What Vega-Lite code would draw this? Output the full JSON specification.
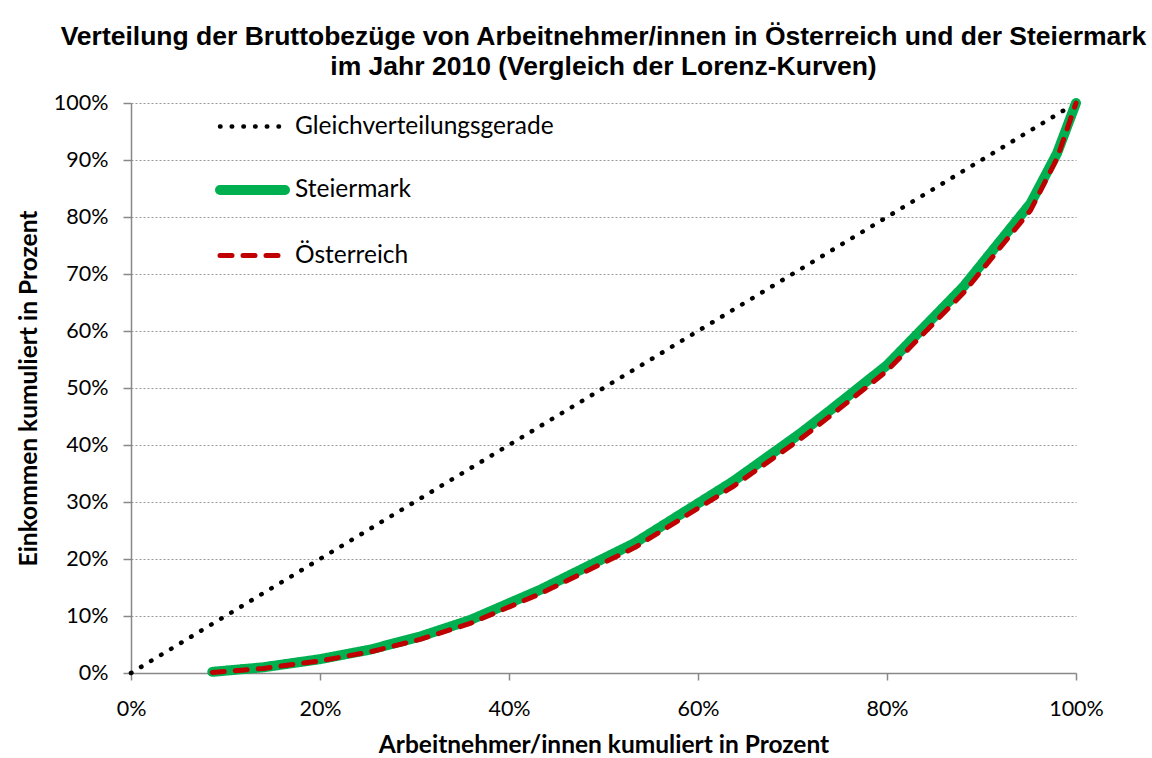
{
  "$schema": "https://vega.github.io/schema/vega-lite/v6.json",
  "autosize": "none",
  "padding": {"left": 131, "top": 103, "right": 76, "bottom": 85},
  "width": 945,
  "height": 570,
  "background": "white",
  "title": {
    "text": ["Verteilung der Bruttobezüge von Arbeitnehmer/innen in Österreich und der Steiermark", "im Jahr 2010 (Vergleich der Lorenz-Kurven)"],
    "font": "Liberation Sans",
    "fontSize": 26.5,
    "fontWeight": "bold",
    "color": "#000000",
    "lineHeight": 30,
    "anchor": "middle",
    "offset": 12
  },
  "data": {
    "values": [
      {"series": "Gleichverteilungsgerade", "x": 0, "y": 0},
      {"series": "Gleichverteilungsgerade", "x": 1, "y": 1},
      {"series": "Steiermark", "x": 0.086, "y": 0.002},
      {"series": "Steiermark", "x": 0.14, "y": 0.010},
      {"series": "Steiermark", "x": 0.199, "y": 0.024},
      {"series": "Steiermark", "x": 0.253, "y": 0.041},
      {"series": "Steiermark", "x": 0.306, "y": 0.064},
      {"series": "Steiermark", "x": 0.359, "y": 0.093},
      {"series": "Steiermark", "x": 0.433, "y": 0.146},
      {"series": "Steiermark", "x": 0.533, "y": 0.228},
      {"series": "Steiermark", "x": 0.637, "y": 0.336},
      {"series": "Steiermark", "x": 0.708, "y": 0.420},
      {"series": "Steiermark", "x": 0.740, "y": 0.461},
      {"series": "Steiermark", "x": 0.800, "y": 0.540},
      {"series": "Steiermark", "x": 0.881, "y": 0.678},
      {"series": "Steiermark", "x": 0.952, "y": 0.824},
      {"series": "Steiermark", "x": 0.980, "y": 0.912},
      {"series": "Steiermark", "x": 1.0, "y": 1.0},
      {"series": "Österreich", "x": 0.086, "y": 0.001},
      {"series": "Österreich", "x": 0.14, "y": 0.008},
      {"series": "Österreich", "x": 0.199, "y": 0.021},
      {"series": "Österreich", "x": 0.253, "y": 0.037},
      {"series": "Österreich", "x": 0.306, "y": 0.059},
      {"series": "Österreich", "x": 0.359, "y": 0.087},
      {"series": "Österreich", "x": 0.433, "y": 0.139},
      {"series": "Österreich", "x": 0.533, "y": 0.220},
      {"series": "Österreich", "x": 0.637, "y": 0.327},
      {"series": "Österreich", "x": 0.708, "y": 0.410},
      {"series": "Österreich", "x": 0.740, "y": 0.451},
      {"series": "Österreich", "x": 0.800, "y": 0.530},
      {"series": "Österreich", "x": 0.881, "y": 0.667},
      {"series": "Österreich", "x": 0.952, "y": 0.812},
      {"series": "Österreich", "x": 0.980, "y": 0.903},
      {"series": "Österreich", "x": 1.0, "y": 1.0}
    ]
  },
  "mark": {"type": "line", "strokeCap": "round", "strokeJoin": "round", "clip": false},
  "encoding": {
    "x": {
      "field": "x", "type": "quantitative",
      "scale": {"domain": [0, 1], "nice": false, "zero": false},
      "axis": {
        "title": "Arbeitnehmer/innen kumuliert in Prozent",
        "format": ".0%",
        "values": [0, 0.2, 0.4, 0.6, 0.8, 1],
        "grid": false,
        "domainColor": "#888888",
        "domainWidth": 1.5,
        "tickColor": "#888888",
        "tickSize": 7,
        "tickWidth": 1.5,
        "labelFont": "Lato",
        "labelFontSize": 21.5,
        "labelColor": "#000000",
        "labelPadding": 18,
        "labelFlush": false,
        "titleFont": "Lato",
        "titleFontSize": 24.5,
        "titleFontWeight": "bold",
        "titleColor": "#000000",
        "titlePadding": 14
      }
    },
    "y": {
      "field": "y", "type": "quantitative",
      "scale": {"domain": [0, 1], "nice": false, "zero": false},
      "axis": {
        "title": "Einkommen kumuliert in Prozent",
        "format": ".0%",
        "values": [0, 0.1, 0.2, 0.3, 0.4, 0.5, 0.6, 0.7, 0.8, 0.9, 1],
        "grid": true,
        "gridColor": "#999999",
        "gridDash": [2, 2],
        "gridWidth": 1.2,
        "domainColor": "#888888",
        "domainWidth": 1.5,
        "tickColor": "#888888",
        "tickSize": 8,
        "tickWidth": 1.5,
        "labelFont": "Lato",
        "labelFontSize": 21.5,
        "labelColor": "#000000",
        "labelPadding": 15,
        "labelFlush": false,
        "titleFont": "Lato",
        "titleFontSize": 24.5,
        "titleFontWeight": "bold",
        "titleColor": "#000000",
        "titlePadding": 12
      }
    },
    "color": {
      "field": "series", "type": "nominal",
      "scale": {"domain": ["Gleichverteilungsgerade", "Steiermark", "Österreich"], "range": ["#000000", "#00B050", "#C00000"]},
      "legend": {
        "title": null,
        "orient": "none",
        "legendX": 79,
        "legendY": 11,
        "symbolType": "M-0.5,0H6",
        "symbolSize": 400,
        "labelFont": "Lato",
        "labelFontSize": 24.5,
        "labelColor": "#000000",
        "labelOffset": 55,
        "rowPadding": 32,
        "labelLimit": 400,
        "encode": {"symbols": {"update": {"strokeCap": {"value": "round"}}}}
      }
    },
    "strokeDash": {
      "field": "series", "type": "nominal",
      "scale": {"domain": ["Gleichverteilungsgerade", "Steiermark", "Österreich"], "range": [[0.5, 11.2], [1, 0], [12, 11]]}
    },
    "strokeWidth": {
      "field": "series", "type": "nominal",
      "scale": {"type": "ordinal", "domain": ["Gleichverteilungsgerade", "Steiermark", "Österreich"], "range": [4.5, 10, 5]}
    }
  },
  "config": {"view": {"stroke": null}}
}
